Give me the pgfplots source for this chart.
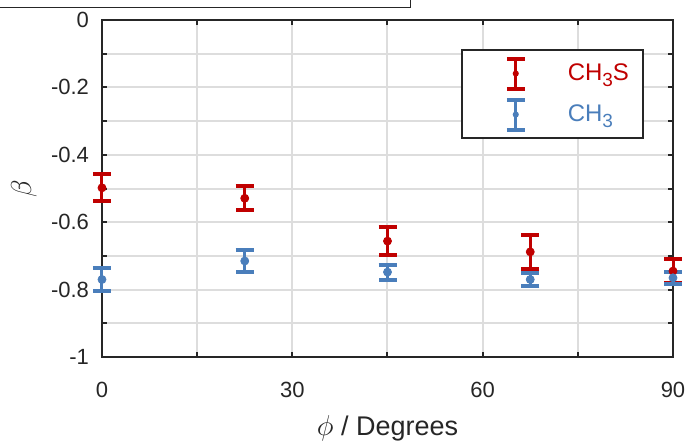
\documentclass[border=0pt]{standalone}
\usepackage{pgfplots}
\usepackage{pgfplotstable}
\pgfplotsset{compat=1.18}
\usepackage{fontspec}
\setmainfont{Liberation Sans}
\definecolor{cRed}{RGB}{192,0,0}
\definecolor{cBlue}{RGB}{74,126,187}
\definecolor{axc}{RGB}{38,38,38}
\definecolor{gridc}{RGB}{221,221,221}

\pgfplotstableread{
x y e
0 -0.498 0.040
22.5 -0.529 0.035
45 -0.656 0.042
67.5 -0.688 0.050
90 -0.745 0.036
}\redtab
\pgfplotstableread{
x y e
0 -0.770 0.035
22.5 -0.715 0.033
45 -0.748 0.022
67.5 -0.770 0.019
90 -0.765 0.018
}\bluetab

\newcommand{\sub}[1]{\raisebox{-0.5ex}{\fontsize{9.5}{10}\selectfont #1}}

\pgfplotsset{
  ebimg/.style={legend image code/.code={
    \path[draw=none, fill=none] (0pt,-10.25pt) rectangle (51pt,10.25pt);
    \draw[#1, line width=1.5pt] (27pt,-7.5pt) -- (27pt,7.5pt);
    \draw[#1, line width=2pt] (22.5pt,-7.5pt) -- (31.5pt,-7.5pt);
    \draw[#1, line width=2pt] (22.5pt,7.5pt) -- (31.5pt,7.5pt);
    \fill[#1] (27pt,0pt) circle (1pt);
  }}
}

\begin{document}
\begin{tikzpicture}
\begin{axis}[
  name=ax, scale only axis, width=285.5pt, height=168.5pt,
  clip=false,
  xmin=0, xmax=90, ymin=-1, ymax=0,
  xtick={0,30,60,90}, minor xtick={15,45,75},
  ytick={-1,-0.8,-0.6,-0.4,-0.2,0},
  minor ytick={-0.9,-0.7,-0.5,-0.3,-0.1},
  yticklabels={-1,-0.8,-0.6,-0.4,-0.2,0},
  grid=both,
  grid style={gridc, line width=1pt},
  minor grid style={gridc, line width=1pt},
  major grid style={gridc, line width=1pt},
  axis line style={axc, line width=1pt},
  tick style={axc, line width=1pt},
  major tick length=2.5pt, minor tick length=2.5pt,
  tick align=inside, tick pos=both,
  /pgf/number format/assume math mode=true,
  ticklabel style={font=\fontsize{11}{13}\selectfont, text=axc},
  xticklabel style={yshift=-9pt},
  yticklabel style={xshift=-3pt},
  xlabel={$\phi$ / Degrees}, ylabel={$\beta$},
  label style={font=\fontsize{13.5}{15}\selectfont, text=axc},
  xlabel style={at={(axis description cs:0.5,0)}, anchor=center, yshift=-35.5pt},
  ylabel style={at={(axis description cs:0,0.5)}, anchor=center, yshift=39pt},
  legend style={at={(rel axis cs:1,1)}, anchor=north east, xshift=-14.5pt, yshift=-14.5pt,
    draw=axc, line width=1pt, fill=white, inner xsep=0pt, inner ysep=1.5pt,
    font=\fontsize{12}{14}\selectfont, row sep=0pt},
  legend cell align=left,
]
\addplot[cRed, only marks, mark=*, mark size=2pt, ebimg=cRed,
  error bars/.cd, y dir=both, y explicit,
  error bar style={line width=1.5pt, cRed},
  error mark options={rotate=90, line width=2pt, mark size=4.5pt, cRed}]
  table[x=x, y=y, y error=e]{\redtab};
\addlegendentry{\textcolor{cRed}{CH\sub{3}S}\kern5pt}
\addplot[cBlue, only marks, mark=*, mark size=2pt, ebimg=cBlue,
  error bars/.cd, y dir=both, y explicit,
  error bar style={line width=1.5pt, cBlue},
  error mark options={rotate=90, line width=2pt, mark size=4.5pt, cBlue}]
  table[x=x, y=y, y error=e]{\bluetab};
\addlegendentry{\textcolor{cBlue}{CH\sub{3}}}
\end{axis}
\draw[axc, line width=0.5pt] ([xshift=-51pt,yshift=6.5pt]ax.north west) -- ([xshift=154pt,yshift=6.5pt]ax.north west) -- ([xshift=154pt,yshift=12pt]ax.north west);
\pgfresetboundingbox
\useasboundingbox ([xshift=-51pt,yshift=-42pt]ax.south west) rectangle ([xshift=7.5pt,yshift=10pt]ax.north east);
\end{tikzpicture}
\end{document}
